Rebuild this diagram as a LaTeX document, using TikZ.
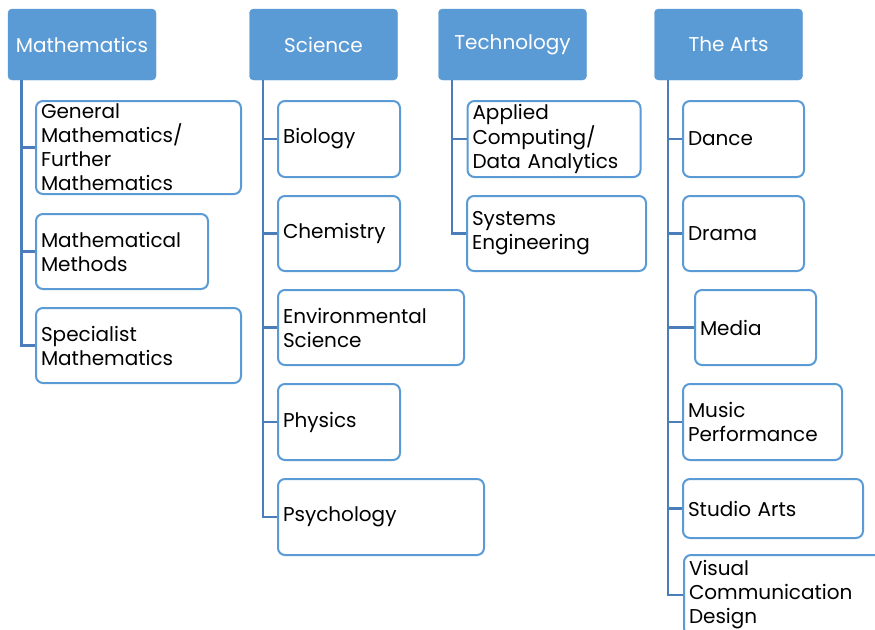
\documentclass[tikz,border=0pt]{standalone}
\usepackage{fontspec}
\setmainfont{Poppins}
\definecolor{hdrblue}{HTML}{5B9BD5}
\definecolor{boxblue}{HTML}{5B9BD5}
\definecolor{lineblue}{HTML}{4A7EBB}
\begin{document}
\begin{tikzpicture}[x=1pt,y=-1pt,
  hdr/.style={draw=hdrblue,fill=hdrblue,rounded corners=4pt,minimum width=148pt,minimum height=71pt,
    text=white,font=\fontsize{20}{24}\selectfont,inner sep=0pt},
  child/.style={draw=boxblue,line width=2pt,fill=white,rounded corners=7pt,inner xsep=5pt,inner ysep=0pt,
    align=left,font=\fontsize{20}{24}\selectfont,anchor=center},
  conn/.style={draw=lineblue,line width=2.4pt}]
\useasboundingbox (0,0) rectangle (875,629);
% headers
\node[hdr] (math) at (82,44.5) {Mathematics};
\node[hdr] (sci) at (323.5,44.5) {Science};
\node[hdr] (tech) at (512.5,44.5) {Technology};
\node[hdr] (arts) at (728.5,44.5) {The Arts};
% Mathematics children
\node[child,minimum width=205pt,minimum height=93pt,text width=195pt] (m1) at (138.5,147.5) {General\\Mathematics/\\Further\\Mathematics};
\node[child,minimum width=172pt,minimum height=75pt,text width=162pt] (m2) at (122,251.5) {Mathematical\\Methods};
\node[child,minimum width=205pt,minimum height=75pt,text width=195pt] (m3) at (138.5,345.5) {Specialist\\Mathematics};
% Science children
\node[child,minimum width=122pt,minimum height=76pt,text width=112pt] (s1) at (339,139) {Biology};
\node[child,minimum width=122pt,minimum height=75pt,text width=112pt] (s2) at (339,233.5) {Chemistry};
\node[child,minimum width=186pt,minimum height=75pt,text width=176pt] (s3) at (371,327.5) {Environmental\\Science};
\node[child,minimum width=122pt,minimum height=76pt,text width=112pt] (s4) at (339,422) {Physics};
\node[child,minimum width=206pt,minimum height=76pt,text width=196pt] (s5) at (381,517) {Psychology};
% Technology children
\node[child,minimum width=173pt,minimum height=76pt,text width=163pt] (t1) at (554,139) {Applied\\Computing/\\Data Analytics};
\node[child,minimum width=179pt,minimum height=75pt,text width=169pt] (t2) at (556.5,233.5) {Systems\\Engineering};
% Arts children
\node[child,minimum width=121pt,minimum height=76pt,text width=111pt] (a1) at (743.5,139) {Dance};
\node[child,minimum width=121pt,minimum height=75pt,text width=111pt] (a2) at (743.5,233.5) {Drama};
\node[child,minimum width=121pt,minimum height=75pt,text width=111pt] (a3) at (755.5,327.5) {Media};
\node[child,minimum width=159pt,minimum height=76pt,text width=149pt] (a4) at (762.5,422) {Music\\Performance};
\node[child,minimum width=180pt,minimum height=59pt,text width=170pt] (a5) at (773,508.5) {Studio Arts};
\node[child,minimum width=200pt,minimum height=80pt,text width=190pt] (a6) at (784,595) {Visual\\Communication\\Design};
% connectors
\foreach \h/\c in {math/m1,math/m2,math/m3,sci/s1,sci/s2,sci/s3,sci/s4,sci/s5,tech/t1,tech/t2,arts/a1,arts/a2,arts/a3,arts/a4,arts/a5,arts/a6}
  \draw[conn] ([xshift=13.5pt]\h.south west) |- (\c.west);
\end{tikzpicture}
\end{document}
